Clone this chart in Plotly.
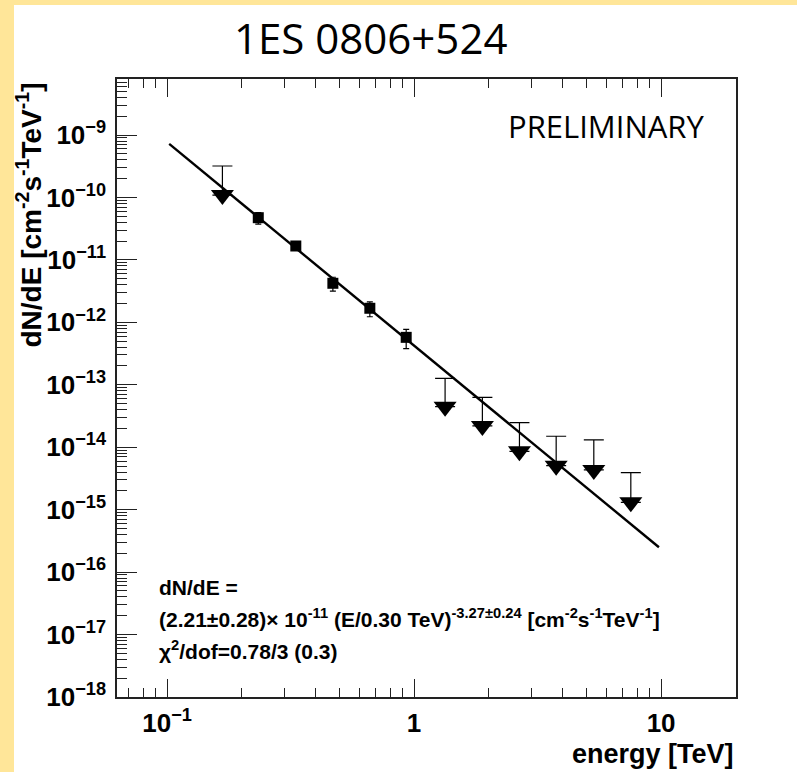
import numpy as np
import plotly.graph_objects as go

# ---- data ----
pt_energy = [0.234, 0.332, 0.469, 0.662, 0.929]          # TeV
pt_flux = [4.74e-11, 1.67e-11, 4.22e-12, 1.68e-12, 5.75e-13]
pt_err = [1.0e-11, 1.5e-12, 1.05e-12, 0.45e-12, 1.95e-13]

ul_energy = [0.1675, 1.335, 1.89, 2.67, 3.76, 5.34, 7.54]
ul_flux = [1.09e-10, 4.46e-14, 2.19e-14, 8.6e-15, 5.07e-15, 4.33e-15, 1.31e-15]
ul_cap = [3.19e-10, 1.27e-13, 6.3e-14, 2.47e-14, 1.50e-14, 1.31e-14, 3.92e-15]

fit_energy = [0.102, 9.8]
fit_flux = [7.2e-10, 2.5e-16]

x_tickvals = [0.1, 1, 10]
x_ticktext = ["10<sup>\u22121</sup>", "1", "10"]
y_exponents = list(range(-18, -8))

title_text = "1ES 0806+524"
prelim_text = "PRELIMINARY"
fit_lines = [
    "dN/dE =",
    "(2.21\u00b10.28)\u00d7 10<sup>-11</sup> (E/0.30 TeV)<sup>-3.27\u00b10.24</sup> [cm<sup>-2</sup>s<sup>-1</sup>TeV<sup>-1</sup>]",
    "\u03c7<sup>2</sup>/dof=0.78/3 (0.3)",
]

# ---- geometry ----
W, H = 797, 772
L, R, T, B = 117, 736, 79, 697
pw, ph = R - L, B - T


def px(p):
    return (p - L) / pw


def py(q):
    return (B - q) / ph


ROOT_FONT = "Liberation Sans, Arial"
ul_up = [c - v for c, v in zip(ul_cap, ul_flux)]

fig = go.Figure()
fig.add_trace(go.Scatter(
    x=fit_energy, y=fit_flux, mode="lines",
    line=dict(color="black", width=2.4), showlegend=False, hoverinfo="skip"))
fig.add_trace(go.Scatter(
    x=pt_energy, y=pt_flux, mode="markers",
    marker=dict(symbol="square", size=11, color="black"),
    error_y=dict(type="data", array=pt_err, color="black", thickness=1.2, width=3),
    showlegend=False))
fig.add_trace(go.Scatter(
    x=ul_energy, y=ul_flux, mode="markers",
    marker=dict(symbol="triangle-down", size=20, color="black"),
    error_y=dict(type="data", symmetric=False, array=ul_up,
                 arrayminus=[0] * len(ul_up), color="black", thickness=1.2, width=10),
    showlegend=False))

x_minor = [k * 10.0 ** e for e in (-2, -1, 0, 1) for k in range(2, 10)]
y_minor = [k * 10.0 ** e for e in range(-19, -7) for k in range(2, 10)]

fig.update_xaxes(
    type="log", range=[np.log10(0.0627), np.log10(20.1)],
    showline=True, linecolor="#222", linewidth=1.5, mirror="ticks",
    ticks="inside", ticklen=18, tickwidth=1.2, tickcolor="#222",
    tickmode="array", tickvals=x_tickvals, ticktext=x_ticktext,
    tickfont=dict(family=ROOT_FONT, size=26, color="black", weight="bold"),
    ticklabelstandoff=2,
    minor=dict(ticks="inside", ticklen=9, tickwidth=1.2, tickcolor="#222",
               tickmode="array", tickvals=x_minor, showgrid=False),
    showgrid=False, zeroline=False)
fig.update_yaxes(
    type="log", range=[-18, -8.103],
    showline=True, linecolor="#222", linewidth=1.5, mirror=True,
    ticks="inside", ticklen=20, tickwidth=1.2, tickcolor="#222",
    tickmode="array", tickvals=[10.0 ** e for e in y_exponents],
    ticktext=["10<sup>\u2212%d</sup>" % (-e) for e in y_exponents],
    tickfont=dict(family=ROOT_FONT, size=26, color="black", weight="bold"),
    ticklabelstandoff=4,
    minor=dict(ticks="inside", ticklen=10, tickwidth=1.2, tickcolor="#222",
               tickmode="array", tickvals=y_minor, showgrid=False),
    showgrid=False, zeroline=False)

annotations = [
    dict(text=title_text, x=px(370), y=py(37), xref="paper", yref="paper",
         xanchor="center", yanchor="middle", showarrow=False,
         font=dict(family="Open Sans", size=42, color="black")),
    dict(text=prelim_text, x=px(706), y=py(126), xref="paper", yref="paper",
         xanchor="right", yanchor="middle", showarrow=False,
         font=dict(family="Open Sans", size=31, color="black")),
    dict(text="energy [TeV]", x=px(736), y=py(771), xref="paper", yref="paper",
         xanchor="right", yanchor="bottom", showarrow=False,
         font=dict(family=ROOT_FONT, size=27, color="black", weight="bold")),
    dict(text="dN/dE [cm<sup>-2</sup>s<sup>-1</sup>TeV<sup>-1</sup>]", x=px(29), y=py(80),
         xref="paper", yref="paper", xanchor="center", yanchor="top",
         textangle=-90, showarrow=False,
         font=dict(family=ROOT_FONT, size=28, color="black", weight="bold")),
]
for i, (line, yc) in enumerate(zip(fit_lines, [587, 618, 650])):
    annotations.append(dict(
        text=line, x=px(157), y=py(yc), xref="paper", yref="paper",
        xanchor="left", yanchor="middle", showarrow=False,
        font=dict(family=ROOT_FONT, size=21, color="black", weight="bold")))

fig.update_layout(
    width=W, height=H,
    margin=dict(l=L, r=W - R, t=T, b=H - B, pad=0),
    paper_bgcolor="#FFE699", plot_bgcolor="white",
    annotations=annotations,
    shapes=[dict(type="rect", xref="paper", yref="paper",
                 x0=px(14), x1=px(W + 20), y0=py(H + 20), y1=py(5),
                 fillcolor="white", line=dict(width=0), layer="below")],
)

fig.write_html("out.html",
               config={"displayModeBar": False},
               post_script="document.body.style.margin='0px';"
                           "document.body.style.overflow='hidden';")
